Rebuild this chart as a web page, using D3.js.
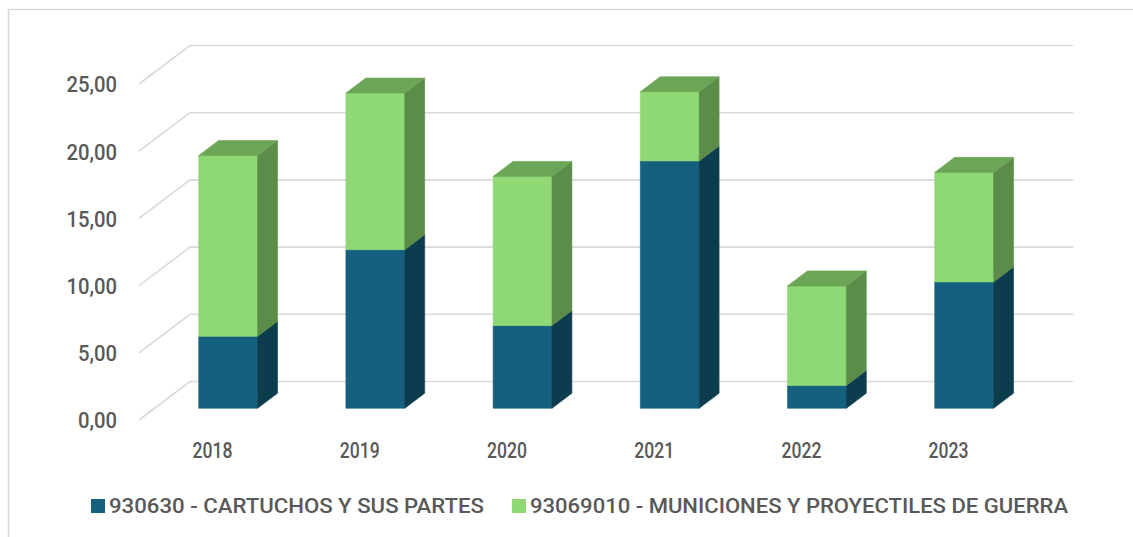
<!DOCTYPE html>
<html>
<head>
<meta charset="utf-8">
<script src="https://cdn.jsdelivr.net/npm/d3@7"></script>
<style>
  html, body { margin: 0; padding: 0; background: #ffffff; }
  svg { display: block; }
  text { font-family: Roboto, "Liberation Sans", sans-serif; fill: #595959; font-weight: 500; }
</style>
</head>
<body>
<svg id="chart" width="1133" height="537"></svg>
<script>
// Annual values (millions) by tariff line
const years = ["2018", "2019", "2020", "2021", "2022", "2023"];
const cartuchos = [5.35, 11.8, 6.15, 18.4, 1.7, 9.4];
const municiones = [13.45, 11.65, 11.1, 5.15, 7.4, 8.15];
const seriesNames = ["930630 - CARTUCHOS Y SUS PARTES", "93069010 - MUNICIONES Y PROYECTILES DE GUERRA"];
const yTicks = [0, 5, 10, 15, 20, 25];

// Colours: front, side, top faces for each series
const palette = [
  { front: "#15607F", side: "#0C3D4F", top: "#104A63" },
  { front: "#8ED973", side: "#5B8C48", top: "#6BA556" }
];

const svg = d3.select("#chart");
const W = 1133, H = 537;

// Outer frame of the chart area
svg.append("rect")
  .attr("x", 8.5).attr("y", 9.5)
  .attr("width", W + 20).attr("height", H + 20)
  .attr("fill", "none").attr("stroke", "#d9d9d9").attr("stroke-width", 1.5);

// Front plane of the 3D floor, plus the depth vector toward the back wall
const front = { left: 139, right: 1022.2, bottom: 420, top: 84 };
const depth = { dx: 51, dy: -38.5 };
const barDepth = [0.305, 0.695];

const x = d3.scaleBand()
  .domain(years)
  .range([front.left, front.right])
  .paddingInner(0.6)
  .paddingOuter(0.3);

const y = d3.scaleLinear()
  .domain([0, 25])
  .range([front.bottom, front.top]);

// Project a (screen-x on front plane, value, depth fraction) triple to screen coords
const proj = (px, v, d) => [px + d * depth.dx, y(v) + d * depth.dy];
const poly = pts => pts.map(p => p.join(",")).join(" ");

// Gridlines: across the left side wall, then along the back wall
const grid = svg.append("g").attr("class", "grid");
grid.selectAll("polyline")
  .data(yTicks)
  .join("polyline")
  .attr("points", v => poly([
    proj(front.left, v, 0),
    proj(front.left, v, 1),
    proj(front.right, v, 1)
  ]))
  .attr("fill", "none")
  .attr("stroke", "#d9d9d9")
  .attr("stroke-width", 1.6);

// Stacked data
const rows = years.map((yr, i) => ({ year: yr, c: cartuchos[i], m: municiones[i] }));
const stacked = d3.stack().keys(["c", "m"])(rows);

const bars = svg.append("g").attr("class", "bars");
const bw = x.bandwidth();
const [d0, d1] = barDepth;

stacked.forEach((layer, k) => {
  const col = palette[k];
  const isTop = k === stacked.length - 1;
  const g = bars.append("g").attr("class", "series-" + k);
  layer.forEach(seg => {
    const v0 = seg[0], v1 = seg[1];
    const xl = x(seg.data.year), xr = xl + bw;
    // front face
    g.append("polygon")
      .attr("points", poly([proj(xl, v0, d0), proj(xr, v0, d0), proj(xr, v1, d0), proj(xl, v1, d0)]))
      .attr("fill", col.front).attr("stroke", col.front).attr("stroke-width", 0.6);
    // right side face
    g.append("polygon")
      .attr("points", poly([proj(xr, v0, d0), proj(xr, v0, d1), proj(xr, v1, d1), proj(xr, v1, d0)]))
      .attr("fill", col.side).attr("stroke", col.side).attr("stroke-width", 0.6);
    // top face
    if (isTop) {
      g.append("polygon")
        .attr("points", poly([proj(xl, v1, d0), proj(xr, v1, d0), proj(xr, v1, d1), proj(xl, v1, d1)]))
        .attr("fill", col.top).attr("stroke", col.top).attr("stroke-width", 0.6);
    }
  });
});

// Value axis
const fmt = d => d3.format(".2f")(d).replace(".", ",");
const yAxis = svg.append("g")
  .attr("transform", "translate(117,0)")
  .call(d3.axisLeft(y).tickValues(yTicks).tickFormat(fmt).tickSize(0).tickPadding(0));
yAxis.select(".domain").remove();
yAxis.selectAll("text")
  .attr("font-family", "Roboto, sans-serif")
  .attr("font-size", 22)
  .attr("font-weight", 500)
  .attr("fill", "#595959")
  .attr("dy", "0.36em")
  .each(function () {
    const w = this.getComputedTextLength();
    d3.select(this).attr("textLength", w * 0.92).attr("lengthAdjust", "spacingAndGlyphs");
  });

// Category axis, labels centred on each band at the front edge of the floor
const xAxis = svg.append("g")
  .attr("transform", `translate(0,${front.bottom})`)
  .call(d3.axisBottom(x).tickSize(0).tickPadding(22));
xAxis.select(".domain").remove();
xAxis.selectAll("text")
  .attr("font-family", "Roboto, sans-serif")
  .attr("font-size", 22)
  .attr("font-weight", 500)
  .attr("fill", "#595959")
  .each(function () {
    const w = this.getComputedTextLength();
    d3.select(this).attr("textLength", w * 0.8).attr("lengthAdjust", "spacingAndGlyphs");
  });

// Legend
const legendItems = [
  { name: seriesNames[0], color: palette[0].front, sx: 91, tx: 109, len: 375 },
  { name: seriesNames[1], color: palette[1].front, sx: 512, tx: 530, len: 538 }
];
const legend = svg.append("g").attr("class", "legend");
legendItems.forEach(it => {
  legend.append("rect")
    .attr("x", it.sx).attr("y", 499)
    .attr("width", 14).attr("height", 14)
    .attr("fill", it.color);
  legend.append("text")
    .attr("x", it.tx).attr("y", 513)
    .attr("font-size", 21)
    .attr("textLength", it.len)
    .attr("lengthAdjust", "spacingAndGlyphs")
    .text(it.name);
});
</script>
</body>
</html>
